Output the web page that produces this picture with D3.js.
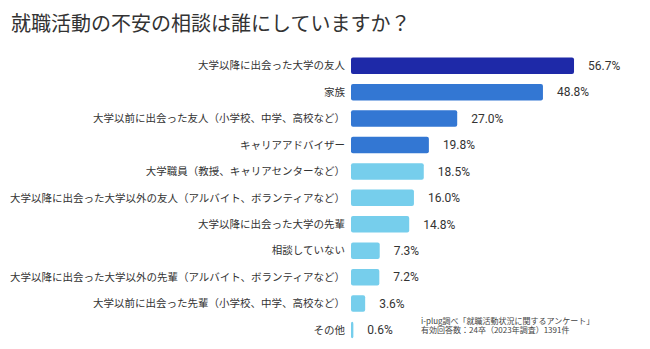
<!DOCTYPE html>
<html>
<head>
<meta charset="utf-8">
<script src="https://cdn.jsdelivr.net/npm/d3@7"></script>
<style>
  body { margin: 0; background: #fff; }
  text { font-family: "Noto Sans CJK JP", "Noto Sans", sans-serif; }
</style>
</head>
<body>
<script>
const Width = 650;
const Height = 349;

const margin = { left: 351, right: 20, top: 52.5, bottom: 6 };

const title = "就職活動の不安の相談は誰にしていますか？";

const categories = [
  "大学以降に出会った大学の友人",
  "家族",
  "大学以前に出会った友人（小学校、中学、高校など）",
  "キャリアアドバイザー",
  "大学職員（教授、キャリアセンターなど）",
  "大学以降に出会った大学以外の友人（アルバイト、ボランティアなど）",
  "大学以降に出会った大学の先輩",
  "相談していない",
  "大学以降に出会った大学以外の先輩（アルバイト、ボランティアなど）",
  "大学以前に出会った先輩（小学校、中学、高校など）",
  "その他"
];
const values = [56.7, 48.8, 27.0, 19.8, 18.5, 16.0, 14.8, 7.3, 7.2, 3.6, 0.6];
const colorGroups = ["top", "mid", "mid", "mid", "low", "low", "low", "low", "low", "low", "low"];

const sourceLines = [
  "i-plug調べ「就職活動状況に関するアンケート」",
  "有効回答数：24卒（2023年調査）1391件"
];

const svg = d3.select('body')
  .append('svg')
    .attr('width', Width)
    .attr('height', Height);

svg.append('text')
  .attr('x', 11)
  .attr('y', 31)
  .attr('font-size', 20)
  .attr('fill', '#333')
  .text(title);

const g = svg.append('g')
  .attr('transform', `translate(${margin.left}, 0)`);

const xScale = d3.scaleLinear()
  .domain([0, 60])
  .range([0, 236]);

const yScale = d3.scaleBand()
  .domain(categories)
  .range([margin.top, 343.2])
  .paddingInner(0.376)
  .paddingOuter(0.188);

const color = d3.scaleOrdinal()
  .domain(["top", "mid", "low"])
  .range(["#1e29a8", "#3377d3", "#76ceec"]);

const rows = g.selectAll('.row')
  .data(categories)
  .join('g')
    .attr('class', 'row');

rows.append('rect')
  .attr('x', 0)
  .attr('y', d => yScale(d))
  .attr('width', (d, i) => xScale(values[i]))
  .attr('height', yScale.bandwidth())
  .attr('rx', 2)
  .attr('fill', (d, i) => color(colorGroups[i]));

rows.append('text')
  .attr('x', -6)
  .attr('y', d => yScale(d) + yScale.bandwidth() / 2)
  .attr('dy', '0.35em')
  .attr('text-anchor', 'end')
  .attr('font-size', 10.5)
  .attr('fill', '#333')
  .text(d => d);

rows.append('text')
  .attr('x', (d, i) => xScale(values[i]) + 14)
  .attr('y', d => yScale(d) + yScale.bandwidth() / 2)
  .attr('dy', '0.36em')
  .attr('font-size', 12)
  .attr('fill', '#333')
  .style('font-family', 'Roboto, "Noto Sans", sans-serif')
  .text((d, i) => values[i].toFixed(1) + '%');

svg.append('g')
  .selectAll('text')
  .data(sourceLines)
  .join('text')
    .attr('x', 421)
    .attr('y', (d, i) => 321 + i * 9.5)
    .attr('dy', '0.35em')
    .attr('font-size', 8)
    .attr('fill', '#444')
    .text(d => d);
</script>
</body>
</html>
